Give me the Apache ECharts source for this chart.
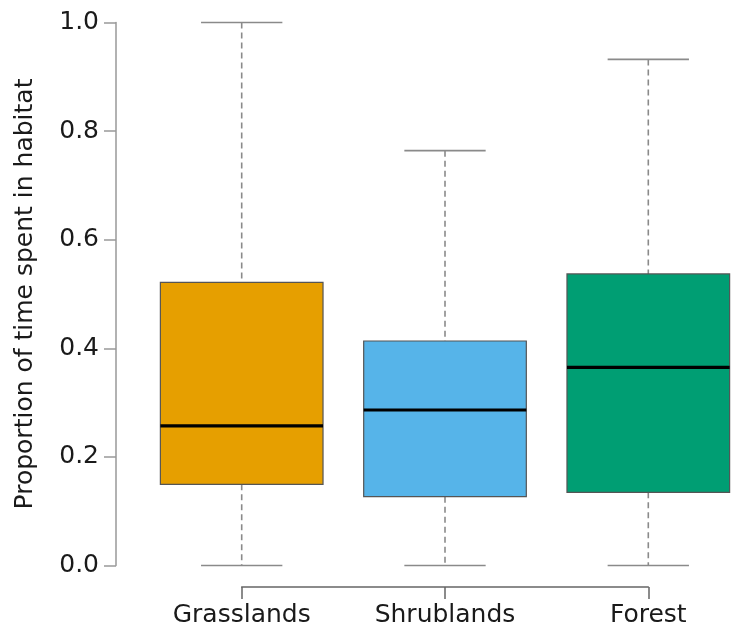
<!DOCTYPE html>
<html>
<head>
<meta charset="utf-8">
<script src="https://cdn.jsdelivr.net/npm/echarts@6/dist/echarts.min.js"></script>
<style>
  html, body { margin: 0; padding: 0; background: #fff; overflow: hidden; }
  #chart { width: 736px; height: 628px; }
</style>
</head>
<body>
<div id="chart"></div>
<script>
// Habitat use summaries (five-number summaries per habitat)
const habitats = ['Grasslands', 'Shrublands', 'Forest'];
const whiskerLow = [0.0, 0.0, 0.0];
const quartile1 = [0.1495, 0.1268, 0.1348];
const medians = [0.257, 0.2864, 0.365];
const quartile3 = [0.5215, 0.4134, 0.537];
const whiskerHigh = [1.0, 0.764, 0.932];
const boxColors = ['#E69F00', '#56B4E9', '#009E73'];
const yTicks = [0, 0.2, 0.4, 0.6, 0.8, 1.0];

const FONT = '"DejaVu Sans", sans-serif';
const FONT_SIZE = 25;

// Plot frame: the horizontal scale runs past the right edge of the canvas,
// so the group positions are placed on a numeric axis (group index 0..2).
const PLOT_LEFT = 116;
const UNIT_PX = 203.3;
const X_MIN = -(241.7 - PLOT_LEFT) / UNIT_PX;
const X_MAX = X_MIN + (736 - PLOT_LEFT) / UNIT_PX;

const boxData = habitats.map((h, i) => [i, whiskerLow[i], quartile1[i], medians[i], quartile3[i], whiskerHigh[i]]);

function renderBox(params, api) {
  const idx = api.value(0);
  const unit = api.size([1, 0])[0];
  const half = unit * 0.4;
  const cap = unit * 0.2;
  const pLow = api.coord([idx, api.value(1)]);
  const pQ1 = api.coord([idx, api.value(2)]);
  const pMed = api.coord([idx, api.value(3)]);
  const pQ3 = api.coord([idx, api.value(4)]);
  const pHigh = api.coord([idx, api.value(5)]);
  const cx = pMed[0];
  const dashStyle = { stroke: '#8a8a8a', lineWidth: 1.6, lineDash: [6, 4] };
  const capStyle = { stroke: '#8a8a8a', lineWidth: 1.6 };
  return {
    type: 'group',
    children: [
      { type: 'line', shape: { x1: cx, y1: pHigh[1], x2: cx, y2: pQ3[1] }, style: dashStyle },
      { type: 'line', shape: { x1: cx, y1: pQ1[1], x2: cx, y2: pLow[1] }, style: dashStyle },
      { type: 'line', shape: { x1: cx - cap, y1: pHigh[1], x2: cx + cap, y2: pHigh[1] }, style: capStyle },
      { type: 'line', shape: { x1: cx - cap, y1: pLow[1], x2: cx + cap, y2: pLow[1] }, style: capStyle },
      {
        type: 'rect',
        shape: { x: cx - half, y: pQ3[1], width: half * 2, height: pQ1[1] - pQ3[1] },
        style: { fill: boxColors[params.dataIndex], stroke: '#555', lineWidth: 1.2 }
      },
      { type: 'line', shape: { x1: cx - half, y1: pMed[1], x2: cx + half, y2: pMed[1] }, style: { stroke: '#000', lineWidth: 3.2 } }
    ]
  };
}

const chart = echarts.init(document.getElementById('chart'));
chart.setOption({
  animation: false,
  backgroundColor: '#ffffff',
  grid: [
    { left: PLOT_LEFT, right: 0, top: 22.5, bottom: 62.5 },
    { left: 241.7, right: 87.7, top: 560, bottom: 40 }
  ],
  xAxis: [
    { gridIndex: 0, type: 'value', min: X_MIN, max: X_MAX, show: false },
    {
      gridIndex: 1, type: 'category', data: habitats, boundaryGap: false,
      axisLine: { show: true, onZero: false, lineStyle: { color: '#666', width: 1.5 } },
      axisTick: { show: true, length: 12, interval: 0, lineStyle: { color: '#666', width: 1.5 } },
      axisLabel: { interval: 0, margin: 16, color: '#1a1a1a', fontSize: FONT_SIZE, fontFamily: FONT },
      splitLine: { show: false }
    }
  ],
  yAxis: [
    {
      gridIndex: 0, type: 'value', min: yTicks[0], max: yTicks[yTicks.length - 1], interval: 0.2,
      name: 'Proportion of time spent in habitat',
      nameLocation: 'middle', nameGap: 78,
      nameTextStyle: { color: '#1a1a1a', fontSize: FONT_SIZE, fontFamily: FONT },
      axisLine: { show: true, onZero: false, lineStyle: { color: '#999', width: 1.5 } },
      axisTick: { show: true, length: 12, lineStyle: { color: '#999', width: 1.5 } },
      axisLabel: { margin: 17, color: '#1a1a1a', fontSize: FONT_SIZE, fontFamily: FONT, formatter: v => v.toFixed(1) },
      splitLine: { show: false }
    },
    { gridIndex: 1, type: 'value', show: false }
  ],
  series: [
    {
      type: 'custom',
      xAxisIndex: 0, yAxisIndex: 0,
      renderItem: renderBox,
      encode: { x: 0, y: [1, 2, 3, 4, 5] },
      data: boxData
    }
  ]
});
</script>
</body>
</html>
